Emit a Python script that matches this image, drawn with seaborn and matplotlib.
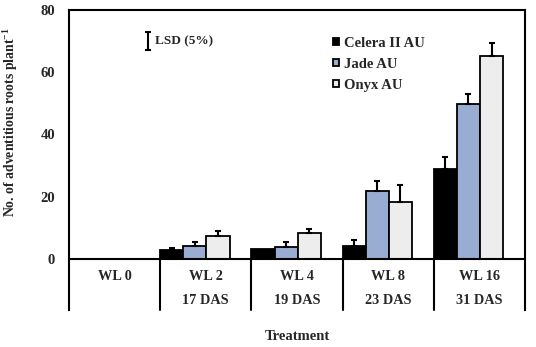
import numpy as np
import pandas as pd
import matplotlib
matplotlib.use('Agg')
import matplotlib.pyplot as plt
import seaborn as sns

# data area
groups = ['WL 0', 'WL 2', 'WL 4', 'WL 8', 'WL 16']
das = ['', '17 DAS', '19 DAS', '23 DAS', '31 DAS']
cultivars = ['Celera II AU', 'Jade AU', 'Onyx AU']
celera = [0, 2.7, 3.2, 4.2, 28.7]
jade = [0, 4.2, 3.7, 21.9, 49.9]
onyx = [0, 7.4, 8.3, 18.3, 65.1]
celera_err = [0, 0.6, 0, 1.9, 3.9]
jade_err = [0, 1.1, 1.6, 3.0, 3.0]
onyx_err = [0, 1.4, 1.1, 5.3, 4.2]
lsd = 6.0

data = pd.DataFrame({
    'treatment': groups * 3,
    'cultivar': np.repeat(cultivars, len(groups)),
    'roots': celera + jade + onyx,
})
errs = [celera_err, jade_err, onyx_err]

sns.set_style('white')
plt.rcParams['font.family'] = ['Liberation Serif', 'DejaVu Serif']
plt.rcParams['font.weight'] = 'bold'
plt.rcParams['mathtext.fontset'] = 'custom'
plt.rcParams['mathtext.rm'] = 'Liberation Serif'
plt.rcParams['mathtext.bf'] = 'Liberation Serif:bold'

fig = plt.figure(figsize=(5.36, 3.47), dpi=100)
ax = fig.add_axes([0.1287, 0.1066, 0.8508, 0.8646])

sns.barplot(data=data, x='treatment', y='roots', hue='cultivar', order=groups,
            hue_order=cultivars, palette=['#000000', '#8eaadb', '#ededed'],
            width=0.76, edgecolor='black', linewidth=1.3, errorbar=None, ax=ax)

# one-sided error bars on top of each bar
for cont, err in zip(ax.containers, errs):
    for bar, e in zip(cont, err):
        if e > 0:
            xc = bar.get_x() + bar.get_width() / 2
            ax.errorbar(xc, bar.get_height(), yerr=[[0], [e]], fmt='none',
                        ecolor='black', elinewidth=1.5, capsize=2.5, capthick=1.5)

ax.set_xlim(-0.38, 4.62)
ax.set_ylim(-16.5, 80)
ax.set_yticks([0, 20, 40, 60, 80])
ax.set_xticks([])
ax.tick_params(axis='y', length=0, pad=10, labelsize=10.5)
ax.set_xlabel('')
ax.set_ylabel(r'No. of adventitious roots plant$^{\mathbf{-1}}$', fontsize=9.9, fontweight='bold')
ax.yaxis.set_label_coords(-0.108, 0.625)

for s in ['left', 'top', 'right']:
    ax.spines[s].set_color('black')
    ax.spines[s].set_linewidth(1.5)
ax.spines['bottom'].set_visible(False)
ax.axhline(0, color='black', lw=1.5)
for i in range(1, len(groups)):
    ax.plot([i - 0.38, i - 0.38], [-16.5, 0], color='black', lw=1.5, clip_on=False)

for i, (g, d) in enumerate(zip(groups, das)):
    ax.text(i + 0.12, -5.8, g, ha='center', va='center', fontsize=10.3, fontweight='bold')
    if d:
        ax.text(i + 0.12, -13.5, d, ha='center', va='center', fontsize=10.3, fontweight='bold')

fig.text(0.554, 0.029, 'Treatment', ha='center', va='center', fontsize=10.5, fontweight='bold')

# LSD marker
ax.errorbar(0.486, 70, yerr=lsd / 2, fmt='none', ecolor='black', elinewidth=1.5, capsize=2.5, capthick=1.5)
ax.text(0.56, 70, 'LSD (5%)', ha='left', va='center', fontsize=9.5, fontweight='bold')

ax.legend(loc='upper left', bbox_to_anchor=(0.55, 0.955), frameon=False,
          handlelength=0.45, handleheight=0.45, handletextpad=0.3, labelspacing=0.55,
          prop={'weight': 'bold', 'size': 10.5})

fig.savefig('out.png', dpi=100)
